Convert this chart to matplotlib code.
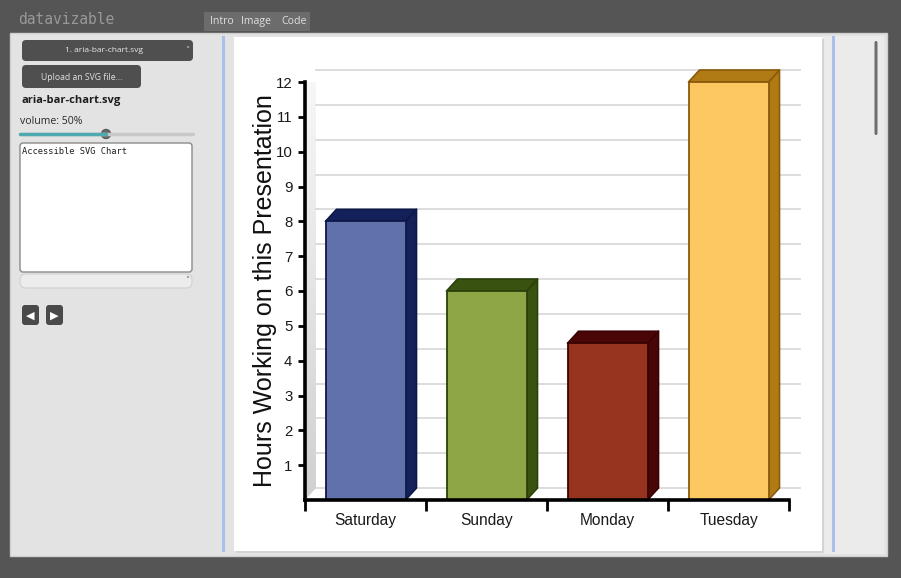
import numpy as np
import matplotlib
matplotlib.use("Agg")
import matplotlib.pyplot as plt
from matplotlib.patches import FancyBboxPatch, Rectangle, Polygon, Circle
from matplotlib.lines import Line2D

# ---------------- data ----------------
categories = ["Saturday", "Sunday", "Monday", "Tuesday"]
hours = [8, 6, 4.5, 12]
y_ticks = list(range(1, 13))
y_label = "Hours Working on this Presentation"
front_colors = ["#6171a9", "#8ea645", "#96341f", "#fdc762"]
dark_colors = ["#14205a", "#3a5210", "#4a0606", "#b07a14"]
edge_colors = ["#0e1848", "#2c400a", "#3a0303", "#8a5a0a"]

W, H = 901, 578
fig = plt.figure(figsize=(W / 100, H / 100), dpi=100)
fig.patch.set_facecolor("#555555")

# ---------------- UI background (pixel coords) ----------------
bg = fig.add_axes([0, 0, 1, 1])
bg.set_xlim(0, W)
bg.set_ylim(H, 0)
bg.axis("off")

ui_font = ["Open Sans", "DejaVu Sans"]

# main light panel
bg.add_patch(Rectangle((10, 33), 877, 523, facecolor="#e3e3e3", edgecolor="#cfcfcf", lw=1))
# right strip lighter
bg.add_patch(Rectangle((822, 36), 62, 518, facecolor="#ebebeb", edgecolor="none"))
# white chart card with slight shadow
bg.add_patch(Rectangle((236, 39), 588, 514, facecolor="#d4d4d4", edgecolor="none"))
bg.add_patch(Rectangle((234, 37), 588, 514, facecolor="white", edgecolor="none"))
# blue separator lines
bg.add_line(Line2D([223, 223], [37, 550], color="#a9c1ea", lw=2.2))
bg.add_line(Line2D([833, 833], [37, 550], color="#a9c1ea", lw=2.2))
# scrollbar
bg.add_patch(FancyBboxPatch((874.5, 41), 3, 94, boxstyle="round,pad=0,rounding_size=1.5",
                            facecolor="#6e6e6e", edgecolor="none"))

# top bar logo & tabs
bg.text(18, 19, "datavizable", color="#a0a0a0", fontsize=10.5, family=["DejaVu Sans Mono"],
        va="center", ha="left", alpha=0.9)
bg.add_patch(Rectangle((204, 12), 106, 19, facecolor="#6c6c6c", edgecolor="none"))
for tx, lab in [(210, "Intro"), (241, "Image"), (281, "Code")]:
    bg.text(tx, 21.5, lab, color="#e0e0e0", fontsize=7.6, family=ui_font, va="center", ha="left")

# dropdown
bg.add_patch(FancyBboxPatch((22, 40), 171, 21, boxstyle="round,pad=0,rounding_size=4",
                            facecolor="#4f4f4f", edgecolor="none"))
bg.text(104, 51, "1. aria-bar-chart.svg", color="#e8e8e8", fontsize=6.0, family=ui_font,
        ha="center", va="center")
bg.text(187, 50, "\u02c5", color="#dddddd", fontsize=6, ha="center", va="center")
# upload button
bg.add_patch(FancyBboxPatch((22, 65), 119, 23, boxstyle="round,pad=0,rounding_size=4",
                            facecolor="#4f4f4f", edgecolor="none"))
bg.text(81.5, 77, "Upload an SVG file...", color="#e0e0e0", fontsize=6.2, family=ui_font,
        ha="center", va="center")
# file name
bg.text(22, 100, "aria-bar-chart.svg", color="#1e1e1e", fontsize=8, family=ui_font,
        weight="bold", ha="left", va="center")
bg.text(20, 121, "volume: 50%", color="#2a2a2a", fontsize=7.6, family=ui_font, ha="left", va="center")
# slider
bg.add_line(Line2D([20, 193], [134, 134], color="#c9c9c9", lw=2.5, solid_capstyle="round"))
bg.add_line(Line2D([20, 106], [134, 134], color="#4fa9b1", lw=2.5, solid_capstyle="round"))
bg.add_patch(Circle((106, 134), 4.5, facecolor="#6a6a6a", edgecolor="#5a5a5a"))
# textarea
bg.add_patch(FancyBboxPatch((20, 143), 172, 129, boxstyle="round,pad=0,rounding_size=3",
                            facecolor="white", edgecolor="#8a8a8a", lw=1))
bg.text(22, 151, "Accessible SVG Chart", color="#222222", fontsize=6.3, family=["DejaVu Sans Mono"],
        ha="left", va="center")
# small select
bg.add_patch(FancyBboxPatch((20, 274), 172, 14, boxstyle="round,pad=0,rounding_size=6",
                            facecolor="#ececec", edgecolor="#d0d0d0", lw=0.8))
bg.text(187, 281, "\u02c5", color="#555555", fontsize=5.5, ha="center", va="center")
# prev / next buttons
for bx, sym in [(22, "\u25c0"), (46, "\u25b6")]:
    bg.add_patch(FancyBboxPatch((bx, 305), 17, 20, boxstyle="round,pad=0,rounding_size=3",
                                facecolor="#4a4a4a", edgecolor="none"))
    bg.text(bx + 8.5, 315.5, sym, color="white", fontsize=8, ha="center", va="center",
            family=["DejaVu Sans"])

# ---------------- chart axes ----------------
x0_px, x1_px, y0_px, y12_px = 305, 789, 500, 82
ax = fig.add_axes([x0_px / W, (H - y0_px) / H, (x1_px - x0_px) / W, (y0_px - y12_px) / H])
ax.set_xlim(-0.5, len(categories) - 0.5)
ax.set_ylim(0, 12)
ax.patch.set_alpha(0)

DX, DY = 11, 12  # depth offset in pixels
fig.canvas.draw()
inv = ax.transData.inverted()


def back(px, py):
    d = ax.transData.transform((px, py))
    return tuple(inv.transform((d[0] + DX, d[1] + DY)))


xl, xr = -0.5, len(categories) - 0.5
# left wall with gradient
wall = [(xl, 0), (xl, 12), back(xl, 12), back(xl, 0)]
wall_poly = Polygon(wall, closed=True, facecolor="none", edgecolor="none", clip_on=False)
ax.add_patch(wall_poly)
grad = np.linspace(0, 1, 256).reshape(-1, 1)
bx1 = back(xl, 0)
bx2 = back(xl, 12)
im = ax.imshow(grad, cmap=matplotlib.colors.LinearSegmentedColormap.from_list("w", ["#d0d0d0", "#f8f8f8"]),
               extent=(xl, bx1[0], bx1[1] - 0.5, bx2[1]), origin="lower", aspect="auto",
               zorder=0.5, clip_on=True)
im.set_clip_path(wall_poly)
ax.set_xlim(-0.5, len(categories) - 0.5)
ax.set_ylim(0, 12)

# gridlines on back wall
for v in [0] + y_ticks:
    p1 = back(xl, v)
    p2 = back(xr, v)
    ax.add_line(Line2D([p1[0], p2[0]], [p1[1], p2[1]], color="#dadada", lw=1.3, zorder=1, clip_on=False))

# bars
bw = 80 / 121
xs = np.arange(len(categories))
for i, (x, v) in enumerate(zip(xs, hours)):
    L, R = x - bw / 2, x + bw / 2
    side = [(R, 0), (R, v), back(R, v), back(R, 0)]
    top = [(L, v), (R, v), back(R, v), back(L, v)]
    ax.add_patch(Polygon(side, closed=True, facecolor=dark_colors[i], edgecolor=edge_colors[i],
                         lw=1.2, zorder=2, clip_on=False, joinstyle="round"))
    ax.add_patch(Polygon(top, closed=True, facecolor=dark_colors[i], edgecolor=edge_colors[i],
                         lw=1.2, zorder=2, clip_on=False, joinstyle="round"))
ax.bar(xs, hours, width=bw, color=front_colors, edgecolor=edge_colors, linewidth=1.3, zorder=3,
       clip_on=False)

# axes styling
chart_font = ["Liberation Sans", "DejaVu Sans"]
for s in ["top", "right"]:
    ax.spines[s].set_visible(False)
for s in ["left", "bottom"]:
    ax.spines[s].set_linewidth(2.6)
    ax.spines[s].set_color("black")
    ax.spines[s].set_zorder(5)
ax.set_yticks(y_ticks)
ax.set_yticklabels([str(t) for t in y_ticks], fontsize=10.8, family=chart_font, color="#1a1a1a")
ax.tick_params(axis="y", length=5, width=2, pad=4)
ax.set_xticks(xs)
ax.set_xticklabels(categories, fontsize=11.2, family=chart_font, color="#1a1a1a")
ax.tick_params(axis="x", which="major", length=0, pad=9)
ax.set_xticks(np.arange(-0.5, len(categories)), minor=True)
ax.tick_params(axis="x", which="minor", length=8, width=2)
ax.text(-0.083, 0.5, y_label, transform=ax.transAxes, rotation=90, ha="center", va="center",
        fontsize=18.0, family=chart_font, color="#111111")

fig.savefig("out.png", dpi=100, facecolor=fig.get_facecolor())
